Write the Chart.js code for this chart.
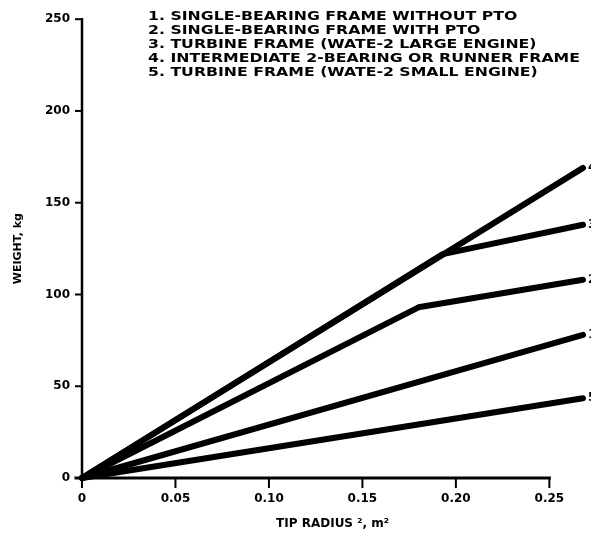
<!DOCTYPE html>
<html>
<head>
<meta charset="utf-8">
<script src="https://cdn.jsdelivr.net/npm/chart.js@4.4.1/dist/chart.umd.min.js"></script>
<style>
  html, body { margin: 0; padding: 0; background: #fff; }
  #wrap { width: 591px; height: 540px; position: relative; }
</style>
</head>
<body>
<div id="wrap"><canvas id="my-chart"></canvas></div>
<script>
'use strict';

// ******* DATA *********
// x = tip radius squared (m^2), y = weight (kg)
let line1X = [0, 0.268];
let line1Y = [0, 78];
let line2X = [0, 0.180, 0.268];
let line2Y = [0, 93, 108];
let line3X = [0, 0.193, 0.268];
let line3Y = [0, 122, 138];
let line4X = [0, 0.268];
let line4Y = [0, 169];
let line5X = [0, 0.268];
let line5Y = [0, 43.5];

let lineNames = ['1', '2', '3', '4', '5'];
let xTickValues = [0, 0.05, 0.10, 0.15, 0.20, 0.25];
let yTickValues = [0, 50, 100, 150, 200, 250];

let legendLines = [
  '1. SINGLE-BEARING FRAME WITHOUT PTO',
  '2. SINGLE-BEARING FRAME WITH PTO',
  '3. TURBINE FRAME (WATE-2 LARGE ENGINE)',
  '4. INTERMEDIATE 2-BEARING OR RUNNER FRAME',
  '5. TURBINE FRAME (WATE-2 SMALL ENGINE)'
];

// ******* HELPERS *********
function toPoints(xs, ys) {
  let pts = [];
  for (let i = 0; i < xs.length; i++) {
    pts.push({ x: xs[i], y: ys[i] });
  }
  return pts;
}

function makeSet(name, xs, ys) {
  return {
    label: name,
    data: toPoints(xs, ys),
    borderColor: '#000',
    borderWidth: 6,
    borderCapStyle: 'round',
    borderJoinStyle: 'round',
    pointRadius: 0,
    tension: 0,
    clip: false
  };
}

const FONT = '"DejaVu Sans", "Liberation Sans", sans-serif';

// axes lines, tick marks, legend text and end labels
let extrasPlugin = {
  id: 'extras',
  afterDraw(chart) {
    let ctx = chart.ctx;
    let xs = chart.scales.x;
    let ys = chart.scales.y;
    let x0 = xs.getPixelForValue(0);
    let y0 = ys.getPixelForValue(0);

    ctx.save();
    ctx.strokeStyle = '#000';
    ctx.lineCap = 'square';

    // y axis
    ctx.lineWidth = 2.5;
    ctx.beginPath();
    ctx.moveTo(x0, ys.getPixelForValue(250));
    ctx.lineTo(x0, y0);
    ctx.stroke();
    ctx.lineWidth = 2;
    yTickValues.forEach(v => {
      let py = ys.getPixelForValue(v);
      ctx.beginPath();
      ctx.moveTo(x0 - 6, py);
      ctx.lineTo(x0, py);
      ctx.stroke();
    });

    // x axis
    let xEnd = xs.getPixelForValue(0.25);
    ctx.lineWidth = 3;
    ctx.beginPath();
    ctx.moveTo(x0 - 6, y0);
    ctx.lineTo(xEnd, y0);
    ctx.stroke();
    ctx.lineWidth = 2;
    xTickValues.forEach(v => {
      let px = xs.getPixelForValue(v);
      ctx.beginPath();
      ctx.moveTo(px, y0);
      ctx.lineTo(px, y0 + 9);
      ctx.stroke();
    });

    // legend block
    ctx.fillStyle = '#000';
    ctx.font = 'bold 12px ' + FONT;
    ctx.textBaseline = 'middle';
    let widest = Math.max(...legendLines.map(t => ctx.measureText(t).width));
    let sx = 432 / widest;
    legendLines.forEach((t, i) => {
      ctx.save();
      ctx.translate(148, 17 + i * 14);
      ctx.scale(sx, 1);
      ctx.fillText(t, 0, 0);
      ctx.restore();
    });

    // end labels (cut by the page edge)
    let ends = [
      [line1X, line1Y, '1'],
      [line2X, line2Y, '2'],
      [line3X, line3Y, '3'],
      [line4X, line4Y, '4'],
      [line5X, line5Y, '5']
    ];
    ctx.font = 'bold 12px ' + FONT;
    ends.forEach(e => {
      let lx = e[0][e[0].length - 1];
      let ly = e[1][e[1].length - 1];
      ctx.fillText(e[2], xs.getPixelForValue(lx) + 5, ys.getPixelForValue(ly));
    });
    ctx.restore();
  }
};

// ******* CHART *********
let ctx = document.getElementById('my-chart');

let chartObj = {
  type: 'line',
  data: {
    datasets: [
      makeSet(lineNames[0], line1X, line1Y),
      makeSet(lineNames[1], line2X, line2Y),
      makeSet(lineNames[2], line3X, line3Y),
      makeSet(lineNames[3], line4X, line4Y),
      makeSet(lineNames[4], line5X, line5Y)
    ]
  },
  options: {
    responsive: true,
    maintainAspectRatio: false,
    animation: false,
    layout: { padding: { top: 14, right: 8, left: 6, bottom: 0 } },
    plugins: {
      legend: { display: false },
      tooltip: { enabled: false }
    },
    scales: {
      x: {
        type: 'linear',
        min: 0,
        max: 0.268,
        afterBuildTicks: scale => {
          scale.ticks = xTickValues.map(v => ({ value: v }));
        },
        afterFit: scale => { scale.height = 62; },
        grid: { display: false, drawTicks: false },
        border: { display: false },
        ticks: {
          color: '#000',
          padding: 14,
          maxRotation: 0,
          font: { family: FONT, size: 12, weight: 'bold' },
          callback: v => (v === 0 ? '0' : v.toFixed(2))
        },
        title: {
          display: true,
          text: 'TIP RADIUS ², m²',
          color: '#000',
          padding: { top: 0, bottom: 9 },
          font: { family: FONT, size: 12, weight: 'bold' }
        }
      },
      y: {
        type: 'linear',
        min: 0,
        max: 250,
        afterBuildTicks: scale => {
          scale.ticks = yTickValues.map(v => ({ value: v }));
        },
        afterFit: scale => { scale.width = 76; },
        grid: { display: false, drawTicks: false },
        border: { display: false },
        ticks: {
          color: '#000',
          padding: 12,
          font: { family: FONT, size: 12, weight: 'bold' }
        },
        title: {
          display: true,
          text: 'WEIGHT, kg',
          color: '#000',
          padding: { top: 6, bottom: 0 },
          font: { family: FONT, size: 11, weight: 'bold' }
        }
      }
    }
  },
  plugins: [extrasPlugin]
};

new Chart(ctx, chartObj); //eslint-disable-line
</script>
</body>
</html>
